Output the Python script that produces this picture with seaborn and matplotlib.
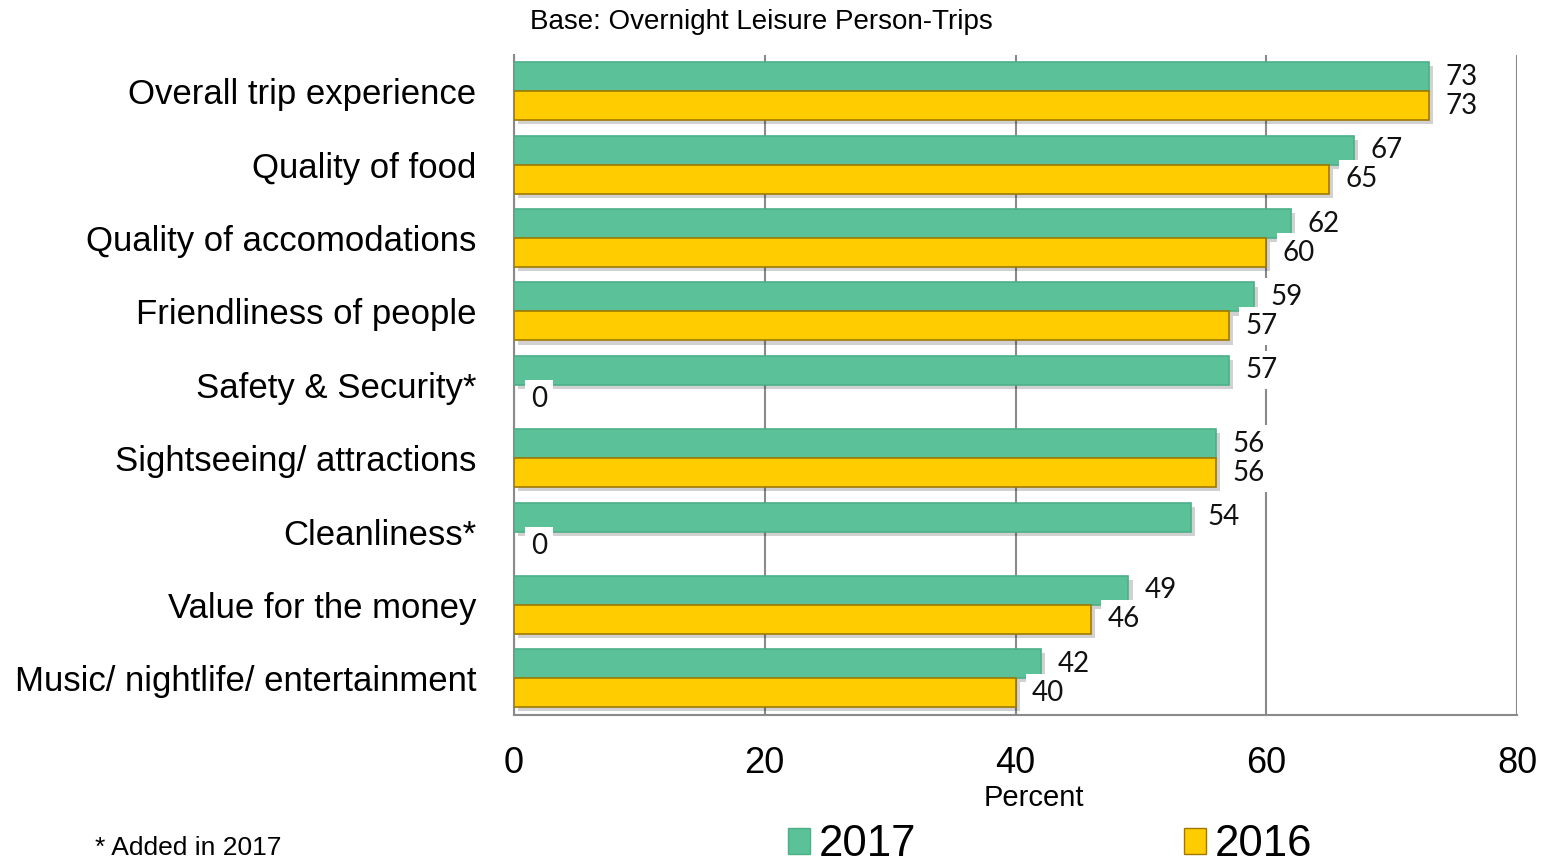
import matplotlib
matplotlib.use("Agg")
import matplotlib.pyplot as plt
import matplotlib.patheffects as pe
from matplotlib.patches import Patch
import seaborn as sns
import pandas as pd

categories = [
    "Overall trip experience",
    "Quality of food",
    "Quality of accomodations",
    "Friendliness of people",
    "Safety & Security*",
    "Sightseeing/ attractions",
    "Cleanliness*",
    "Value for the money",
    "Music/ nightlife/ entertainment",
]
values_2017 = [73, 67, 62, 59, 57, 56, 54, 49, 42]
values_2016 = [73, 65, 60, 57, 0, 56, 0, 46, 40]
years = ["2017", "2016"]
x_ticks = [0, 20, 40, 60, 80]

green = "#5BC199"
yellow = "#FFCC00"
green_edge = "#4CAF87"
yellow_edge = "#A07800"

df = pd.DataFrame({
    "category": categories * 2,
    "value": values_2017 + values_2016,
    "year": [years[0]] * len(categories) + [years[1]] * len(categories),
})

sns.set_theme(style="white")
plt.rcParams["font.family"] = ["Liberation Sans", "DejaVu Sans"]
plt.rcParams["text.color"] = "black"
plt.rcParams["axes.labelcolor"] = "black"
plt.rcParams["xtick.color"] = "black"
plt.rcParams["ytick.color"] = "black"

fig = plt.figure(figsize=(15.47, 8.65), dpi=100)
ax = fig.add_axes([514 / 1547, 1 - 715 / 865, (1517 - 514) / 1547, (715 - 54.6) / 865])

sns.barplot(
    data=df, y="category", x="value", hue="year", hue_order=years,
    order=categories, orient="h", palette=[green, yellow], saturation=1,
    width=0.79, dodge=True, gap=0, legend=False, ax=ax, zorder=3,
)

edge_cols = [green_edge, yellow_edge]
for i, cont in enumerate(ax.containers):
    for bar in cont:
        if bar.get_width() == 0:
            bar.set_linewidth(0)
            continue
        bar.set_edgecolor(edge_cols[i])
        bar.set_linewidth(1.2)
        bar.set_path_effects([
            pe.SimplePatchShadow(offset=(3, -3), shadow_rgbFace="#000000", alpha=0.18),
            pe.Normal(),
        ])
    ax.bar_label(
        cont, fmt="%g", padding=12, fontsize=20, family=["Lato", "DejaVu Sans"],
        color="#111111", zorder=5,
        bbox=dict(boxstyle="square,pad=0.22", facecolor="white", edgecolor="none"),
    )

ax.set_xlim(0, 80)
ax.set_ylim(len(categories) - 0.5, -0.5)
ax.set_xticks(x_ticks)
ax.set_xticklabels([str(t) for t in x_ticks], fontsize=26)
ax.set_xlabel("Percent", fontsize=21, labelpad=0)
ax.xaxis.set_label_coords(0.518, -0.104)
ax.set_ylabel("")

# category labels sit between boundary tick marks
ax.set_yticks(range(len(categories)))
ax.set_yticklabels(categories, fontsize=25)
ax.tick_params(axis="y", length=0, pad=27)
ax.set_yticks([i + 0.5 for i in range(-1, len(categories))], minor=True)
ax.tick_params(axis="y", which="minor", length=12, width=1.3, color="#888888", direction="out")
ax.tick_params(axis="x", length=12, width=1.3, color="#888888", labelcolor="black",
               direction="out", pad=10)

ax.grid(axis="x", color="#8a8a8a", linewidth=1.5, zorder=0)
ax.set_axisbelow(True)
for side in ["top", "right"]:
    ax.spines[side].set_visible(False)
for side in ["left", "bottom"]:
    ax.spines[side].set_color("#8a8a8a")
    ax.spines[side].set_linewidth(1.5)

fig.text(530 / 1547, 1 - 22 / 865, "Base: Overnight Leisure Person-Trips",
         fontsize=20, va="center", ha="left")
fig.text(95 / 1547, 1 - 848 / 865, "* Added in 2017", fontsize=19, va="center", ha="left")

handles = [
    Patch(facecolor=green, edgecolor=green_edge, label=years[0]),
    Patch(facecolor=yellow, edgecolor=yellow_edge, label=years[1]),
]
fig.legend(
    handles=handles, loc="center", bbox_to_anchor=(1050 / 1547, 1 - 845 / 865),
    ncol=2, frameon=False, fontsize=31.5, handlelength=0.52, handleheight=0.52,
    handletextpad=0.2, columnspacing=6.1, borderpad=0,
)

fig.savefig("out.png", dpi=100)
